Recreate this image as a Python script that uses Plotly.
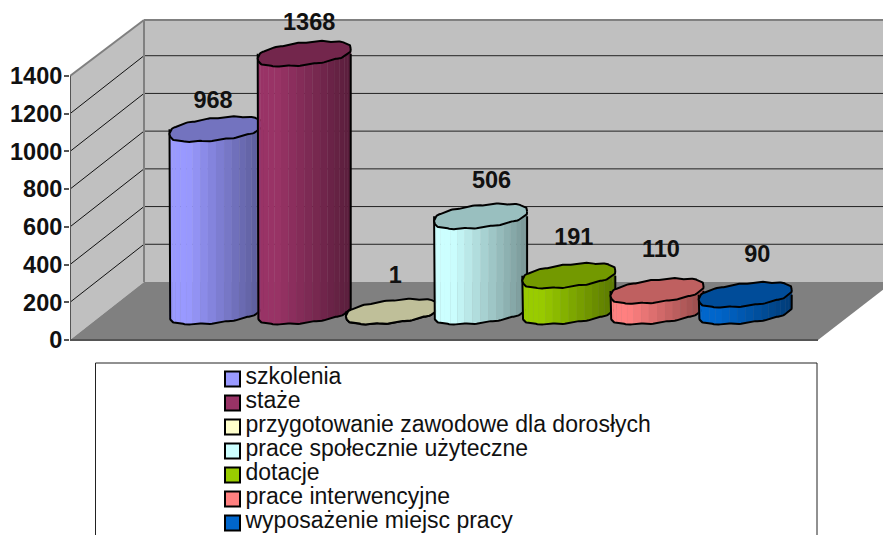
import numpy as np
import plotly.graph_objects as go

categories = ["szkolenia", "staże", "przygotowanie zawodowe dla dorosłych",
              "prace społecznie użyteczne", "dotacje", "prace interwencyjne",
              "wyposażenie miejsc pracy"]
values = [968, 1368, 1, 506, 191, 110, 90]
colors = ["#9999FF", "#993366", "#FFFFCC", "#CCFFFF", "#99CC00", "#FF8080", "#0066CC"]
tick_values = [0, 200, 400, 600, 800, 1000, 1200, 1400]

W, H, LEFT = 883, 535, 70
ZERO_PX, TOP_PX = 340, 76
K = (ZERO_PX - TOP_PX) / 1400
SLOT, FIRST = 88.2, 216


def X(px):
    return (px - FIRST) / SLOT


def Y(px):
    return (ZERO_PX - px) / K


def poly(points, close=True):
    d = " L".join(f"{X(a):.4f},{Y(b):.2f}" for a, b in points)
    return "M" + d + (" Z" if close else "")


DEPTH_X, DEPTH_Y = 74, 58
BACK_X = LEFT + DEPTH_X
shapes = []
wall = "#C0C0C0"
floor = "#808080"
edge = "#808080"


def add(points, fill=None, color=None, width=1, close=True):
    shapes.append(dict(type="path", path=poly(points, close), xref="x", yref="y", layer="below",
                       fillcolor=fill if fill else "rgba(0,0,0,0)",
                       line=dict(color=color if color else "rgba(0,0,0,0)", width=width)))


def tick_px(v):
    return ZERO_PX - v * K


add([(BACK_X, 20), (W + 5, 20), (W + 5, 282), (BACK_X, 282)], fill=wall)
add([(LEFT, tick_px(1400)), (BACK_X, 20), (BACK_X, 282), (LEFT, ZERO_PX)], fill=wall)
add([(LEFT, ZERO_PX), (818, ZERO_PX), (W + 5, 286), (W + 5, 282), (BACK_X, 282)], fill=floor)
for v in tick_values[1:-1]:
    y0 = tick_px(v)
    add([(LEFT, y0), (BACK_X, y0 - DEPTH_Y)], color="#111111", close=False)
    add([(BACK_X, y0 - DEPTH_Y), (W + 5, y0 - DEPTH_Y)], color="#222222", close=False)
add([(BACK_X, 20), (W + 5, 20)], color=edge, width=2, close=False)
add([(LEFT, tick_px(1400)), (BACK_X, 20)], color=edge, width=2, close=False)
add([(BACK_X, 20), (BACK_X, 282)], color=edge, width=2, close=False)
add([(LEFT, tick_px(1400)), (LEFT, ZERO_PX)], color="#555555", width=2, close=False)
add([(LEFT, ZERO_PX), (818, ZERO_PX)], color="#555555", width=2, close=False)
# legend frame
add([(95.5, 363), (817, 363), (817, 545), (95.5, 545)], fill="#FFFFFF", color="#222222", width=1)

# cylinder geometry, in axis units
A = 46.5 / SLOT
B = 11 / K
TILT = 5 / K
WAVE = 0.6 / K
BASE = 150


def ring(t):
    s = np.sin(t)
    fat = np.sign(s) * np.abs(s) ** 0.75
    return np.cos(t) * A, B * fat + TILT * np.cos(t) + WAVE * np.sin(12 * t)


def shade(color, f):
    r, g, b = (int(color[i:i + 2], 16) for i in (1, 3, 5))
    return f"rgb({r * f:.0f},{g * f:.0f},{b * f:.0f})"


fig = go.Figure()
STRIPS = 18
for i, (v, c) in enumerate(zip(values, colors)):
    edges = np.linspace(np.pi, 0, STRIPS + 1)
    for j in range(STRIPS):
        ts = np.linspace(edges[j], edges[j + 1], 5)
        xs, low = ring(-ts)
        xx = np.r_[xs, xs[::-1]]
        yy = np.r_[low + BASE, (low + BASE + v)[::-1]]
        u = (xs[0] + xs[-1]) / 2 / A
        col = shade(c, 1 - 0.42 * max(0, (u + 0.6) / 1.6))
        fig.add_trace(go.Scatter(x=i + xx, y=yy, mode="lines", fill="toself", fillcolor=col,
                                 line=dict(color=col, width=0.6), hoverinfo="skip", showlegend=False))
    ts = np.linspace(np.pi, 0, 73)
    xs, low = ring(-ts)
    xx = np.r_[xs[0], xs, xs[-1]]
    yy = np.r_[BASE + v, low + BASE, BASE + v]
    fig.add_trace(go.Scatter(x=i + xx, y=yy, mode="lines", line=dict(color="#000000", width=2),
                             hoverinfo="skip", showlegend=False))
    tt = np.linspace(0, 2 * np.pi, 145)
    xs, ys = ring(tt)
    fig.add_trace(go.Scatter(x=i + xs, y=ys + BASE + v, mode="lines", fill="toself",
                             fillcolor=shade(c, 0.75), line=dict(color="#000000", width=2),
                             hoverinfo="skip", showlegend=False))

# data labels, nudged per column in pixels
label_dx = [-3, 5, 3, 11, 5, 4, 12]
label_dy = [27, 30, 34, 34, 37, 40, 39]
fig.add_trace(go.Scatter(
    x=[i + dx / SLOT for i, dx in enumerate(label_dx)],
    y=[BASE + v + dy / K for v, dy in zip(values, label_dy)],
    text=[str(v) for v in values], mode="text", textposition="middle center",
    textfont=dict(family="Liberation Sans", size=23.5, color="#111111", weight="bold"),
    cliponaxis=False, hoverinfo="skip", showlegend=False))

# legend rows
row_px = [379, 403, 427, 451, 475, 499, 523]
text_px = [378, 402, 426, 450, 474, 498, 522]
for name, c, ry, ty in zip(categories, colors, row_px, text_px):
    fig.add_trace(go.Scatter(x=[X(232.5), X(245.5)], y=[Y(ry), Y(ty)], mode="markers+text",
                             name=name, text=["", name], textposition="middle right",
                             textfont=dict(family="Liberation Sans", size=23, color="#111111"),
                             marker=dict(symbol="square", size=[15, 0], color=c, opacity=1,
                                         line=dict(color="#000000", width=[2, 0])),
                             cliponaxis=False, hoverinfo="skip", showlegend=False))

fig.update_layout(
    width=W, height=H, margin=dict(l=LEFT, r=0, t=0, b=0, pad=0),
    paper_bgcolor="#FFFFFF", plot_bgcolor="rgba(0,0,0,0)", shapes=shapes,
    font=dict(family="Liberation Sans", color="#111111"), showlegend=False,
    xaxis=dict(range=[X(LEFT), X(W)], visible=False, fixedrange=True),
    yaxis=dict(range=[Y(H), Y(0)], tickmode="array", tickvals=tick_values,
               showgrid=False, zeroline=False, showline=False, ticks="outside", ticklen=5,
               tickcolor="#555555", tickwidth=2, fixedrange=True, ticklabelstandoff=-3,
               tickfont=dict(family="Liberation Sans", size=23.5, color="#111111", weight="bold")),
)
fig.write_html("out.html", config=dict(displayModeBar=False),
               post_script="document.body.style.margin='0';document.body.style.overflow='hidden';")
